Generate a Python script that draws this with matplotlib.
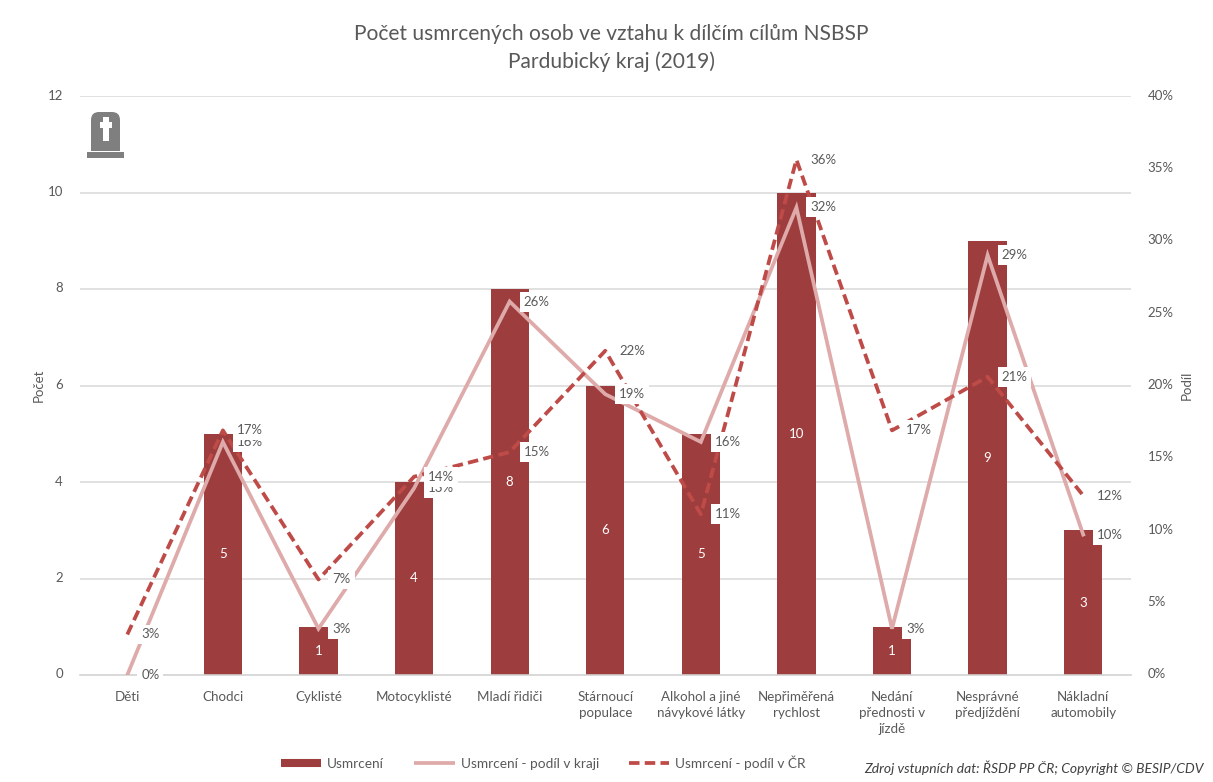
import matplotlib
matplotlib.use("Agg")
import matplotlib.pyplot as plt
from matplotlib.lines import Line2D
from matplotlib.patches import Rectangle, FancyBboxPatch
from matplotlib.ticker import FuncFormatter
from matplotlib.transforms import IdentityTransform, ScaledTranslation

plt.rcParams["font.family"] = ["Lato", "DejaVu Sans"]

W, H = 1213, 782
TEXT = "#595959"
BAR = "#9E3D3D"
KRAJ = "#DEAAAA"
CR = "#BE4B48"
GRID = "#D9D9D9"

categories = [
    "Děti", "Chodci", "Cyklisté", "Motocyklisté", "Mladí řidiči",
    "Stárnoucí\npopulace", "Alkohol a jiné\nnávykové látky",
    "Nepřiměřená\nrychlost", "Nedání\npřednosti v\njízdě",
    "Nesprávné\npředjíždění", "Nákladní\nautomobily",
]
usmrceni = [0, 5, 1, 4, 8, 6, 5, 10, 1, 9, 3]
podil_kraj = [0, 16.1, 3.2, 12.9, 25.8, 19.4, 16.1, 32.3, 3.2, 29.0, 9.7]
podil_cr = [2.8, 16.9, 6.6, 13.7, 15.4, 22.4, 11.1, 35.6, 16.9, 20.6, 12.4]


def fx(px):
    return px / W


def fy(py):
    return 1 - py / H


fig = plt.figure(figsize=(W / 100, H / 100), dpi=100, facecolor="white")
ax = fig.add_axes([fx(79.5), fy(675), fx(1131 - 79.5), (675 - 96) / H])
ax2 = ax.twinx()

x = list(range(len(categories)))

# sloupce
bars = ax.bar(x, usmrceni, width=0.4, color=BAR, zorder=3)
ax.set_xlim(-0.5, len(categories) - 0.5)
ax.set_ylim(0, 12)
ax.set_yticks(range(0, 13, 2))
ax.grid(axis="y", color=GRID, lw=1.1, zorder=0)
ax.set_axisbelow(True)
for b, v in zip(bars, usmrceni):
    if v > 0:
        ax.text(b.get_x() + b.get_width() / 2, v / 2, str(v), color="white",
                ha="center", va="center", fontsize=9.5, zorder=4)

ax.set_xticks(x)
ax.set_xticklabels(categories, fontsize=9.6, color=TEXT, linespacing=1.42, va="top")
ax.tick_params(axis="x", length=0, pad=11.5)
ax.tick_params(axis="y", length=0, pad=12, labelsize=9.5, labelcolor=TEXT)
ax.set_ylabel("Počet", fontsize=9.5, color=TEXT)
ax.yaxis.set_label_coords((45 - 79.5) / (1131 - 79.5), 0.5)

# podily
ax2.set_ylim(0, 40)
ax2.set_yticks(range(0, 41, 5))
ax2.yaxis.set_major_formatter(FuncFormatter(lambda v, p: f"{v:.0f}%"))
ax2.tick_params(axis="y", length=0, pad=12, labelsize=9.5, labelcolor=TEXT)
ax2.set_ylabel("Podíl", fontsize=9.5, color=TEXT, rotation=90)
ax2.yaxis.set_label_coords((1181 - 79.5) / (1131 - 79.5), 0.5)

# popisky osy y o kousek vys
posun = ScaledTranslation(0, 1.5 / 100, fig.dpi_scale_trans)
for lab in ax.get_yticklabels() + ax2.get_yticklabels():
    lab.set_transform(lab.get_transform() + posun)

ax2.plot(x, podil_kraj, color=KRAJ, lw=2.7, zorder=5, solid_joinstyle="miter")
ax2.plot(x, podil_cr, color=CR, lw=2.7, dashes=(2.8, 1.4), zorder=6)

box = dict(boxstyle="square,pad=0.3", fc="white", ec="none")
for i, v in enumerate(podil_kraj):
    ax2.annotate(f"{v:.0f}%", (i, v), xytext=(10, 0), textcoords="offset points",
                 fontsize=9.5, color=TEXT, va="center", bbox=box, zorder=7)
for i, v in enumerate(podil_cr):
    ax2.annotate(f"{v:.0f}%", (i, v), xytext=(10, 0), textcoords="offset points",
                 fontsize=9.5, color=TEXT, va="center", bbox=box, zorder=8)

for a in (ax, ax2):
    for side in ("top", "left", "right"):
        a.spines[side].set_visible(False)
    a.spines["bottom"].set_color(GRID)
    a.spines["bottom"].set_linewidth(1.1)

# titulek
fig.text(fx(611.5), fy(34), "Počet usmrcených osob ve vztahu k dílčím cílům NSBSP",
         ha="center", va="center", fontsize=15.15, color=TEXT)
fig.text(fx(611.5), fy(62), "Pardubický kraj (2019)",
         ha="center", va="center", fontsize=15.15, color=TEXT)

# ikona nahrobku (souradnice v pixelech)
GREY = "#7F7F7F"
px = IdentityTransform()
fig.add_artist(FancyBboxPatch((91, H - 140), 29, 28,
                              boxstyle="round,pad=0,rounding_size=8",
                              fc=GREY, ec="none", transform=px))
fig.add_artist(Rectangle((91, H - 151), 29, 25, fc=GREY, ec="none", transform=px))
fig.add_artist(Rectangle((87, H - 158), 37, 6, fc=GREY, ec="none", transform=px))
fig.add_artist(Rectangle((103, H - 141), 6, 24, fc="white", ec="none", transform=px))
fig.add_artist(Rectangle((100, H - 128), 12, 6, fc="white", ec="none", transform=px))

# legenda
handles = [
    Line2D([0], [0], color=BAR, lw=5.8, solid_capstyle="butt"),
    Line2D([0], [0], color=KRAJ, lw=2.7, solid_capstyle="butt"),
    Line2D([0], [0], color=CR, lw=2.7, dashes=(2.8, 1.4)),
]
fig.legend(handles, ["Usmrcení", "Usmrcení - podíl v kraji", "Usmrcení - podíl v ČR"],
           loc="center left", bbox_to_anchor=(fx(281), fy(763)), ncol=3, frameon=False,
           fontsize=9.8, labelcolor=TEXT, handlelength=2.95, handletextpad=0.45,
           columnspacing=2.22, borderpad=0, borderaxespad=0)

fig.text(fx(1204), fy(768), "Zdroj vstupních dat: ŘSDP PP ČR; Copyright © BESIP/CDV",
         ha="right", va="center", fontsize=10, style="italic", color="#404040")

fig.savefig("out.png", dpi=100)
